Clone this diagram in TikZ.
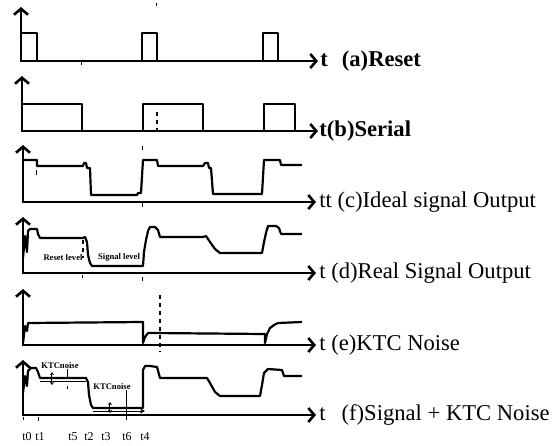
\documentclass[tikz,border=0pt]{standalone}
\usepackage{fontspec}
\setmainfont{Liberation Serif}
\usetikzlibrary{arrows.meta}
\begin{document}
\begin{tikzpicture}[
  x=0.5pt, y=-0.5pt,
  axis/.style={line width=1.3pt,{Straight Barb[length=3pt,width=7pt]}-{Straight Barb[length=3pt,width=7pt]}},
  sig/.style={line width=1.1pt,line join=round},
  aux/.style={line width=0.5pt},
  vline/.style={line width=0.6pt,dash pattern=on 2pt off 2pt},
  lbl/.style={anchor=west,inner sep=0pt,font=\fontsize{11.3}{13}\selectfont},
  tlbl/.style={inner sep=0pt,font=\fontsize{6}{7}\selectfont},
  note/.style={inner sep=0pt,font=\fontsize{4.3}{5}\selectfont\bfseries},
  dbl/.style={aux,{Stealth[length=1.5pt,width=2pt]}-{Stealth[length=1.5pt,width=2pt]}}
]
  \useasboundingbox (0,0) rectangle (559,446);
  \coordinate (a0) at (21,61);
  \coordinate (aY) at (21,7);
  \coordinate (aX) at (318,61);
  \coordinate (b0) at (22,131);
  \coordinate (bY) at (22,76);
  \coordinate (bX) at (318,131);
  \coordinate (c0) at (23,202);
  \coordinate (cY) at (23,145);
  \coordinate (cX) at (316,202);
  \coordinate (d0) at (23,273);
  \coordinate (dY) at (23,217);
  \coordinate (dX) at (316,273);
  \coordinate (e0) at (23,345);
  \coordinate (eY) at (23,289);
  \coordinate (eX) at (316,345);
  \coordinate (f0) at (23,415);
  \coordinate (fY) at (23,360);
  \coordinate (fX) at (316,415);
  \draw[axis] (aY) -- (a0) -- (aX);
  \draw[axis] (bY) -- (b0) -- (bX);
  \draw[axis] (cY) -- (c0) -- (cX);
  \draw[axis] (dY) -- (d0) -- (dX);
  \draw[axis] (eY) -- (e0) -- (eX);
  \draw[axis] (fY) -- (f0) -- (fX);
  \node[lbl,font=\fontsize{11.3}{13}\selectfont\bfseries] (la) at (320,61) {t\hspace{7pt}(a)Reset};
  \node[lbl,font=\fontsize{11.3}{13}\selectfont\bfseries] (lb) at (319,131) {t(b)Serial};
  \node[lbl] (lc) at (319,202) {tt (c)Ideal signal Output};
  \node[lbl] (ld) at (319,273) {t (d)Real Signal Output};
  \node[lbl] (le) at (319,345) {t (e)KTC Noise};
  \node[lbl] (lf) at (319,415) {t\hspace{8pt}(f)Signal + KTC Noise};
  \draw[sig] (21,33) -- (37,33) -- (37,61);
  \draw[sig] (142,61) -- (142,33) -- (157,33) -- (157,61);
  \draw[sig] (263,61) -- (263,33) -- (278,33) -- (278,61);
  \draw[sig] (22,104) -- (82,104) -- (82,131);
  \draw[sig] (143,131) -- (143,104) -- (203,104) -- (203,131);
  \draw[sig] (264,131) -- (264,104) -- (295,104) -- (295,131);
  \draw[sig] (23,160) -- (37,160) -- (37,166) -- (83,166) -- (84,163) -- (86,163) -- (87,168) -- (90,168) -- (91,195) -- (137,195) -- (138,193) -- (141,193) -- (143,160) -- (157,160) -- (158,166) -- (203,166) -- (205,163) -- (208,163) -- (209,168) -- (211,168) -- (213,194) -- (262,194) -- (264,160) -- (280,160) -- (281,165) -- (302,165);
  \draw[sig] (23,258) -- (25,236) -- (27,252) -- (28,231) -- (30,229) -- (37,229) -- (38,234) -- (40,238) -- (83,238) -- (85,237) -- (87,242) -- (88,255) -- (90,263) -- (92,266) -- (143,266) -- (144,252) -- (146,240) -- (148,231) -- (150,227) -- (155,227) -- (158,230) -- (160,237) -- (203,237) -- (206,236) -- (210,242) -- (215,249) -- (220,253) -- (262,253) -- (264,242) -- (266,233) -- (268,226) -- (276,226) -- (279,228) -- (281,234) -- (302,234);
  \draw[sig] (23,343) -- (25,326) -- (27,331) -- (28,323) -- (143,322) -- (143,343) -- (145,337) -- (148,333) -- (152,333) -- (265,334) -- (265,343) -- (267,334) -- (270,328) -- (274,325) -- (278,323) -- (302,322);
  \draw[sig] (23,393) -- (25,376) -- (27,386) -- (28,371) -- (31,368) -- (36,368) -- (38,372) -- (40,378) -- (86,378) -- (88,382) -- (89,395) -- (91,405) -- (93,408) -- (143,408) -- (143,370) -- (145,366) -- (150,366) -- (157,367) -- (160,378) -- (207,378) -- (210,383) -- (215,392) -- (220,396) -- (260,396) -- (262,385) -- (264,373) -- (268,369) -- (282,370) -- (284,376) -- (302,376);
  \node[note] (rl) at (63,258) {Reset level};
  \node[note] (sl) at (119,257) {Signal level};
  \draw[vline] (83,240) -- (83,258);
  \node[note] (kn1) at (60,366) {KTCnoise};
  \node[note] (kn2) at (112,387) {KTCnoise};
  \coordinate (k1) at (68,378);
  \coordinate (k2) at (127,420);
  \draw[aux] (kn1.south -| k1) -- (k1);
  \draw[aux] (kn2.south -| k2) -- (k2);
  \draw[aux] (40,381) -- (86,381);
  \draw[aux,-{Stealth[length=2.5pt,width=2.5pt]}] (93,411) -- (145,411);
  \draw[dbl] (52,372) -- (52,385);
  \draw[dbl] (110,402) -- (110,413);
  \draw[vline] (157,112) -- (157,131);
  \draw[vline] (160,295) -- (160,352);
  \draw[aux] (157,3) -- (157,6);
  \draw[aux] (82,62) -- (82,65);
  \draw[aux] (37,170) -- (37,175);
  \draw[aux] (143,146) -- (143,150);
  \draw[aux] (143,203) -- (143,207);
  \draw[aux] (83,275) -- (83,278);
  \draw[aux] (143,277) -- (143,281);
  \draw[aux] (68,386) -- (68,389);
  \draw[aux] (24,417) -- (24,420);
  \draw[aux] (39,417) -- (39,421);
  \node[tlbl] (t0) at (27,437) {t0};
  \node[tlbl] (t1) at (40,437) {t1};
  \node[tlbl] (t5) at (73,437) {t5};
  \node[tlbl] (t2) at (89,437) {t2};
  \node[tlbl] (t3) at (106,437) {t3};
  \node[tlbl] (t6) at (127,437) {t6};
  \node[tlbl] (t4) at (145,437) {t4};
\end{tikzpicture}
\end{document}
